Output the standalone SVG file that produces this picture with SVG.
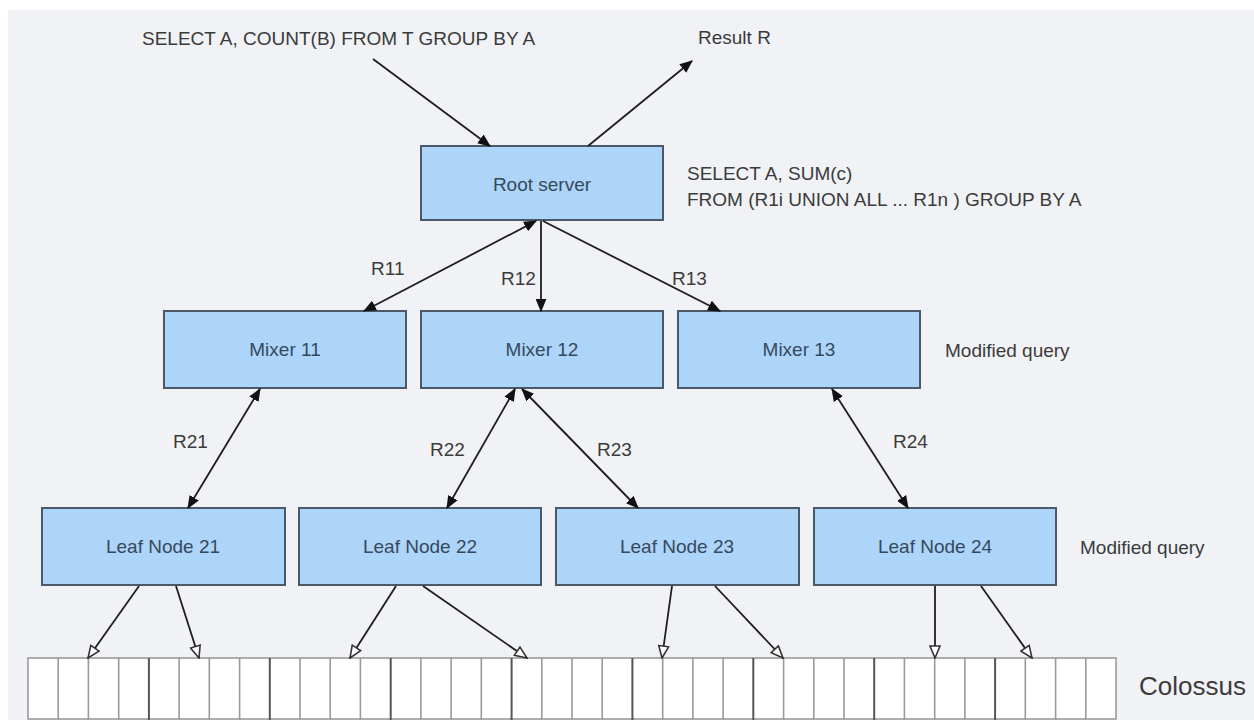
<svg xmlns="http://www.w3.org/2000/svg" width="1254" height="720" viewBox="0 0 1254 720">
  <style>
    .node rect { fill: #add4f9; stroke: #4b5867; stroke-width: 2; }
    .node text { font-family: "Liberation Sans", Arial, sans-serif; font-size: 19px; fill: #36495c; text-anchor: middle; }
    .lbl { font-family: "Liberation Sans", Arial, sans-serif; font-size: 19px; fill: #3b3b3b; }
    .edge { stroke: #1e1e1e; stroke-width: 1.8; fill: none; }
    .cell { fill: #ffffff; stroke: #9a9a9a; stroke-width: 1.6; }
    .cellMajor { stroke: #555555; stroke-width: 2; }
  </style>
  <defs>
    <marker id="solid" viewBox="0 0 12 10" refX="11" refY="5" markerWidth="13" markerHeight="11" markerUnits="userSpaceOnUse" orient="auto-start-reverse">
      <path d="M0,0 L12,5 L0,10 z" fill="#111"/>
    </marker>
    <marker id="hollow" viewBox="0 0 14 12" refX="13" refY="6" markerWidth="14" markerHeight="12" markerUnits="userSpaceOnUse" orient="auto">
      <path d="M1,1 L13,6 L1,11 z" fill="#ffffff" stroke="#333" stroke-width="1.6"/>
    </marker>
  </defs>

  <!-- canvas -->
  <rect x="0" y="0" width="1254" height="720" fill="#ffffff"/>
  <rect x="8" y="10" width="1246" height="710" fill="#f0f2f6"/>

  <!-- free text -->
  <text class="lbl" x="142" y="45">SELECT A, COUNT(B) FROM T GROUP BY A</text>
  <text class="lbl" x="698" y="44">Result R</text>
  <text class="lbl" x="687" y="180">SELECT A, SUM(c)</text>
  <text class="lbl" x="687" y="206">FROM (R1i UNION ALL ... R1n ) GROUP BY A</text>
  <text class="lbl" x="945" y="357">Modified query</text>
  <text class="lbl" x="1080" y="554">Modified query</text>
  <text class="lbl" x="1139" y="695" style="font-size:26px">Colossus</text>

  <!-- edge labels -->
  <text class="lbl" x="371" y="275">R11</text>
  <text class="lbl" x="501" y="285">R12</text>
  <text class="lbl" x="672" y="285">R13</text>
  <text class="lbl" x="173" y="448">R21</text>
  <text class="lbl" x="430" y="456">R22</text>
  <text class="lbl" x="597" y="456">R23</text>
  <text class="lbl" x="893" y="448">R24</text>

  <!-- nodes -->
  <g id="root-server" class="node">
    <rect x="421" y="146" width="242" height="74"/>
    <text x="542" y="191">Root server</text>
  </g>
  <g id="mixer-11" class="node">
    <rect x="164" y="311" width="242" height="77"/>
    <text x="285" y="356">Mixer 11</text>
  </g>
  <g id="mixer-12" class="node">
    <rect x="421" y="311" width="242" height="77"/>
    <text x="542" y="356">Mixer 12</text>
  </g>
  <g id="mixer-13" class="node">
    <rect x="678" y="311" width="242" height="77"/>
    <text x="799" y="356">Mixer 13</text>
  </g>
  <g id="leaf-21" class="node">
    <rect x="42" y="508" width="243" height="77"/>
    <text x="163" y="553">Leaf Node 21</text>
  </g>
  <g id="leaf-22" class="node">
    <rect x="299" y="508" width="242" height="77"/>
    <text x="420" y="553">Leaf Node 22</text>
  </g>
  <g id="leaf-23" class="node">
    <rect x="556" y="508" width="243" height="77"/>
    <text x="677" y="553">Leaf Node 23</text>
  </g>
  <g id="leaf-24" class="node">
    <rect x="814" y="508" width="242" height="77"/>
    <text x="935" y="553">Leaf Node 24</text>
  </g>

  <!-- Colossus storage strip: 36 cells, heavier line every 4 cells -->
  <g id="colossus">
    <rect class="cell" x="28" y="658" width="1088" height="61"/>
    <g stroke="#9a9a9a" stroke-width="1.6">
      <line x1="58.2" y1="658" x2="58.2" y2="720"/>
      <line x1="88.4" y1="658" x2="88.4" y2="720"/>
      <line x1="118.7" y1="658" x2="118.7" y2="720"/>
      <line x1="179.1" y1="658" x2="179.1" y2="720"/>
      <line x1="209.3" y1="658" x2="209.3" y2="720"/>
      <line x1="239.6" y1="658" x2="239.6" y2="720"/>
      <line x1="300.0" y1="658" x2="300.0" y2="720"/>
      <line x1="330.2" y1="658" x2="330.2" y2="720"/>
      <line x1="360.4" y1="658" x2="360.4" y2="720"/>
      <line x1="420.9" y1="658" x2="420.9" y2="720"/>
      <line x1="451.1" y1="658" x2="451.1" y2="720"/>
      <line x1="481.3" y1="658" x2="481.3" y2="720"/>
      <line x1="541.8" y1="658" x2="541.8" y2="720"/>
      <line x1="572.0" y1="658" x2="572.0" y2="720"/>
      <line x1="602.2" y1="658" x2="602.2" y2="720"/>
      <line x1="662.7" y1="658" x2="662.7" y2="720"/>
      <line x1="692.9" y1="658" x2="692.9" y2="720"/>
      <line x1="723.1" y1="658" x2="723.1" y2="720"/>
      <line x1="783.6" y1="658" x2="783.6" y2="720"/>
      <line x1="813.8" y1="658" x2="813.8" y2="720"/>
      <line x1="844.0" y1="658" x2="844.0" y2="720"/>
      <line x1="904.4" y1="658" x2="904.4" y2="720"/>
      <line x1="934.7" y1="658" x2="934.7" y2="720"/>
      <line x1="964.9" y1="658" x2="964.9" y2="720"/>
      <line x1="1025.3" y1="658" x2="1025.3" y2="720"/>
      <line x1="1055.6" y1="658" x2="1055.6" y2="720"/>
      <line x1="1085.8" y1="658" x2="1085.8" y2="720"/>
    </g>
    <g class="cellMajor">
      <line x1="148.9" y1="658" x2="148.9" y2="720"/>
      <line x1="269.8" y1="658" x2="269.8" y2="720"/>
      <line x1="390.7" y1="658" x2="390.7" y2="720"/>
      <line x1="511.6" y1="658" x2="511.6" y2="720"/>
      <line x1="632.4" y1="658" x2="632.4" y2="720"/>
      <line x1="753.3" y1="658" x2="753.3" y2="720"/>
      <line x1="874.2" y1="658" x2="874.2" y2="720"/>
      <line x1="995.1" y1="658" x2="995.1" y2="720"/>
    </g>
  </g>

  <!-- connectors -->
  <g id="connectors">
    <line class="edge" x1="373" y1="59" x2="490" y2="146" marker-end="url(#solid)"/>
    <line class="edge" x1="588" y1="146" x2="692" y2="61" marker-end="url(#solid)"/>

    <line class="edge" x1="536" y1="221" x2="364" y2="311" marker-start="url(#solid)" marker-end="url(#solid)"/>
    <line class="edge" x1="541" y1="221" x2="541" y2="311" marker-end="url(#solid)"/>
    <line class="edge" x1="543" y1="221" x2="720" y2="311" marker-end="url(#solid)"/>

    <line class="edge" x1="260" y1="389" x2="188" y2="508" marker-start="url(#solid)" marker-end="url(#solid)"/>
    <line class="edge" x1="515" y1="389" x2="447" y2="508" marker-start="url(#solid)" marker-end="url(#solid)"/>
    <line class="edge" x1="522" y1="389" x2="638" y2="508" marker-start="url(#solid)" marker-end="url(#solid)"/>
    <line class="edge" x1="832" y1="389" x2="908" y2="508" marker-start="url(#solid)" marker-end="url(#solid)"/>

    <line class="edge" x1="139" y1="586" x2="88" y2="658" marker-end="url(#hollow)"/>
    <line class="edge" x1="176" y1="586" x2="199" y2="658" marker-end="url(#hollow)"/>
    <line class="edge" x1="396" y1="586" x2="350" y2="658" marker-end="url(#hollow)"/>
    <line class="edge" x1="423" y1="586" x2="527" y2="658" marker-end="url(#hollow)"/>
    <line class="edge" x1="672" y1="586" x2="662" y2="658" marker-end="url(#hollow)"/>
    <line class="edge" x1="715" y1="586" x2="783" y2="658" marker-end="url(#hollow)"/>
    <line class="edge" x1="935" y1="586" x2="935" y2="658" marker-end="url(#hollow)"/>
    <line class="edge" x1="981" y1="586" x2="1032" y2="658" marker-end="url(#hollow)"/>
  </g>
</svg>
